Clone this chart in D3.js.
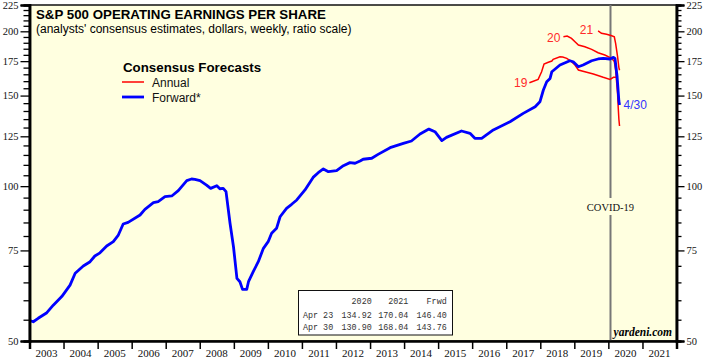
<!DOCTYPE html>
<html><head><meta charset="utf-8">
<script src="https://cdn.jsdelivr.net/npm/d3@7"></script>
<style>body{margin:0;background:#fff}svg{display:block}</style>
</head><body><svg id="c" width="708" height="364"></svg>
<script>
// ---------- DATA ----------
const forwardDates = ["2003-01-04","2003-02-10","2003-04-04","2003-07-06","2003-09-13","2003-12-13","2004-03-11","2004-05-05","2004-07-31","2004-10-12","2004-12-02","2005-01-26","2005-04-08","2005-06-18","2005-08-11","2005-10-02","2005-11-24","2006-04-01","2006-05-23","2006-08-22","2006-10-12","2006-12-24","2007-03-07","2007-05-16","2007-08-15","2007-10-05","2007-11-10","2008-01-04","2008-03-14","2008-04-27","2008-07-02","2008-08-04","2008-09-09","2008-10-09","2008-11-21","2008-12-28","2009-02-03","2009-03-07","2009-04-04","2009-05-19","2009-06-07","2009-07-28","2009-09-20","2009-11-14","2010-01-04","2010-02-10","2010-04-04","2010-05-12","2010-07-20","2010-09-13","2010-11-07","2011-02-03","2011-05-01","2011-06-25","2011-08-19","2011-10-12","2012-01-08","2012-03-21","2012-05-30","2012-07-24","2012-09-16","2012-10-19","2013-01-19","2013-03-28","2013-08-04","2013-12-24","2014-03-21","2014-06-21","2014-09-24","2014-11-28","2015-02-10","2015-04-01","2015-09-09","2015-12-09","2016-01-30","2016-04-12","2016-08-15","2017-02-10","2017-07-02","2017-11-07","2017-12-28","2018-02-03","2018-03-11","2018-04-16","2018-05-05","2018-07-31","2018-11-14","2018-12-20","2019-02-14","2019-04-05","2019-07-06","2019-09-13","2019-11-07","2020-01-19","2020-02-25","2020-03-12","2020-04-04","2020-04-23","2020-04-30"];
const forwardValues = [54.8,54.5,55.35,56.75,58.7,61.0,64.2,67.7,69.95,71.3,73.15,74.2,76.5,78.0,80.35,84.4,85.05,87.9,90.15,92.85,93.3,95.4,95.7,98.0,102.5,103.25,103.1,102.5,100.5,99.0,100.2,98.85,99.0,97.55,84.7,76.25,66.2,65.2,63.0,63.0,65.2,68.2,71.3,75.7,78.0,81.0,82.8,87.2,90.55,92.2,94.0,98.3,104.0,106.2,108.0,106.7,107.2,109.6,111.1,110.8,111.9,112.8,113.3,115.3,118.8,121.1,122.4,126.3,129.1,127.6,122.6,124.4,128.0,126.7,123.9,123.9,128.6,133.4,138.5,142.7,145.9,153.8,159.6,162.0,166.9,172.0,175.3,174.5,170.7,172.0,175.3,176.7,177.2,176.7,178.0,177.2,163.2,146.40,143.76];

const annual19Dates = ["2017-09-06","2017-12-09","2018-01-15","2018-02-10","2018-03-28","2018-05-05","2018-05-19","2018-07-31","2018-08-29","2018-10-12","2018-12-02","2019-01-08","2019-02-14","2019-04-24","2019-07-24","2019-11-07","2020-01-19","2020-02-25","2020-03-26"];
const annual19Values = [158.9,161.3,166.9,172.8,174.1,175.1,176.4,178.5,178.3,177.2,174.6,172.0,168.2,166.9,165.2,162.8,161.3,162.8,162.8];

const annual20Dates = ["2018-09-06","2018-10-16","2018-12-02","2019-01-08","2019-02-14","2019-04-24","2019-07-06","2019-09-13","2019-11-24","2020-02-06","2020-03-05","2020-03-19","2020-04-09","2020-04-16","2020-04-23","2020-04-30"];
const annual20Values = [195.2,195.8,193.8,190.9,188.1,186.7,184.5,181.7,179.9,177.2,174.6,168.2,151.5,142.0,134.92,130.90];

const annual21Dates = ["2019-09-13","2019-10-19","2019-12-13","2020-02-06","2020-03-05","2020-03-19","2020-04-09","2020-04-23","2020-04-30"];
const annual21Values = [200.3,198.2,197.3,196.1,195.2,189.5,178.5,170.04,168.04];

const annualLabels = ["19","20","21"];
const endLabel = "4/30";
const covidDate = "2020-01-24";
const covidLabel = "COVID-19";

const yMajorTicks = [50,75,100,125,150,175,200,225];
const yMinorTicks = d3.range(55,225,5).filter(v => !yMajorTicks.includes(v));
const yearLabels = d3.range(2003,2022);

const tableHeader = ["2020","2021","Frwd"];
const tableDates = ["Apr 23","Apr 30"];
const est2020 = [134.92,130.90];
const est2021 = [170.04,168.04];
const estFwd = [146.40,143.76];

const titleText = "S&P 500 OPERATING EARNINGS PER SHARE";
const subtitleText = "(analysts' consensus estimates, dollars, weekly, ratio scale)";
const legendTitle = "Consensus Forecasts";
const legendItems = ["Annual","Forward*"];
const creditText = "yardeni.com";

// ---------- CHART ----------
const parse = d3.timeParse("%Y-%m-%d");
const svg = d3.select("#c");
const L = 29.5, R = 676.5, T = 5, B = 341;
const x = d3.scaleTime().domain([new Date(2003,0,1), new Date(2022,0,1)]).range([L, R]);
const y = d3.scaleLog().domain([50,225]).range([B, T]);

const RED = "#ff0000", BLUE = "#0000ff";
const bg = "#ffffe0";

svg.append("rect").attr("x",L).attr("y",T).attr("width",R-L).attr("height",B-T)
  .attr("fill",bg).attr("stroke","#111").attr("stroke-width",1.5);

// COVID line
const cx = x(parse(covidDate));
svg.append("line").attr("x1",cx).attr("x2",cx).attr("y1",T).attr("y2",B)
  .attr("stroke","#777").attr("stroke-width",2);
svg.append("rect").attr("x",cx-26).attr("y",198).attr("width",52).attr("height",17).attr("fill",bg);
svg.append("text").attr("x",cx).attr("y",211).attr("text-anchor","middle")
  .attr("font-family","Liberation Serif").attr("font-size",10.5).attr("fill","#111").text(covidLabel);

const line = d3.line().x(d => x(d[0])).y(d => y(d[1]));
function series(dates, vals){ return dates.map((d,i)=>[parse(d), vals[i]]); }

const a19 = series(annual19Dates, annual19Values);
const a20 = series(annual20Dates, annual20Values);
const a21 = series(annual21Dates, annual21Values);
const fwd = series(forwardDates, forwardValues);

[a19,a20,a21].forEach((s,i) => {
  svg.append("path").datum(s).attr("d",line).attr("fill","none").attr("stroke",RED).attr("stroke-width",1.5);
  const offs = [[-2,4.5],[-3,5],[-5,3.5]][i];
  svg.append("text").attr("x",x(s[0][0])+offs[0]).attr("y",y(s[0][1])+offs[1])
    .attr("text-anchor","end").attr("font-family","Liberation Sans").attr("font-size",12)
    .attr("fill","#ff2a2a").text(annualLabels[i]);
});
svg.append("path").datum(fwd).attr("d",line).attr("fill","none").attr("stroke",BLUE)
  .attr("stroke-width",2.8).attr("stroke-linejoin","round");
const lastF = fwd[fwd.length-1];
svg.append("text").attr("x",x(lastF[0])+4).attr("y",y(lastF[1])+3.5)
  .attr("font-family","Liberation Sans").attr("font-size",12).attr("fill","#3333ff").text(endLabel);

// Axes
function yAxis(gen, xpos, major, minor){
  const g1 = svg.append("g").attr("transform",`translate(${xpos},0)`)
    .call(gen(y).tickValues(yMajorTicks).tickFormat(d3.format("d")).tickSize(major).tickPadding(2));
  const g2 = svg.append("g").attr("transform",`translate(${xpos},0)`)
    .call(gen(y).tickValues(yMinorTicks).tickFormat("").tickSize(minor));
  [g1,g2].forEach(g => {
    g.select(".domain").attr("stroke","#000").attr("stroke-width",2.5);
    g.selectAll(".tick line").attr("stroke","#000").attr("stroke-width",1.3);
    g.selectAll("text").attr("font-family","Liberation Serif").attr("font-size",10.5).attr("fill","#111");
  });
}
yAxis(d3.axisLeft, L, 9, 6);
yAxis(d3.axisRight, R, 8, 5);

const xb = svg.append("g").attr("transform",`translate(0,${B})`)
  .call(d3.axisBottom(x).tickValues(d3.range(2003,2023).map(yr=>new Date(yr,0,1))).tickFormat("").tickSize(8));
xb.select(".domain").attr("stroke","#000").attr("stroke-width",2.5);
xb.selectAll(".tick line").attr("stroke","#000").attr("stroke-width",1.5);
svg.append("g").selectAll("text").data(yearLabels).join("text")
  .attr("x", yr => (x(new Date(yr,0,1)) + x(new Date(yr+1,0,1)))/2)
  .attr("y", 357).attr("text-anchor","middle")
  .attr("font-family","Liberation Serif").attr("font-size",11).attr("fill","#111")
  .text(d => d);

// Title
svg.append("text").attr("x",36).attr("y",19).attr("font-family","Liberation Sans")
  .attr("font-weight","bold").attr("font-size",13.3).attr("fill","#000").text(titleText);
svg.append("text").attr("x",36).attr("y",33).attr("font-family","Liberation Sans")
  .attr("font-size",12).attr("fill","#000").text(subtitleText);

// Legend
svg.append("text").attr("x",123).attr("y",72).attr("font-family","Liberation Sans")
  .attr("font-weight","bold").attr("font-size",13.3).attr("fill","#000").text(legendTitle);
[[RED,1.5],[BLUE,2.8]].forEach((c,i) => {
  const ly = 82 + i*15;
  svg.append("line").attr("x1",122).attr("x2",144).attr("y1",ly).attr("y2",ly)
    .attr("stroke",c[0]).attr("stroke-width",c[1]);
  svg.append("text").attr("x",152).attr("y",ly+4.5).attr("font-family","Liberation Sans")
    .attr("font-size",12).attr("fill","#111").text(legendItems[i]);
});

// Table
const tb = svg.append("g");
tb.append("rect").attr("x",298.5).attr("y",290.5).attr("width",154).attr("height",44.5)
  .attr("fill","#fff").attr("stroke","#111").attr("stroke-width",1);
const colX = [371.7,408.3,446.7];
const tf = s => s.attr("font-family","Liberation Mono").attr("font-size",8.4).attr("fill","#333");
tableHeader.forEach((h,i) => tf(tb.append("text").attr("x",colX[i]).attr("y",304).attr("text-anchor","end").text(h)));
tableDates.forEach((d,r) => {
  const by = 318 + r*12;
  tf(tb.append("text").attr("x",303).attr("y",by).text(d));
  [est2020[r], est2021[r], estFwd[r]].forEach((v,i) =>
    tf(tb.append("text").attr("x",colX[i]).attr("y",by).attr("text-anchor","end").text(v.toFixed(2))));
});

// credit
svg.append("text").attr("x",672).attr("y",336).attr("text-anchor","end")
  .attr("font-family","Liberation Serif").attr("font-style","italic").attr("font-weight","bold")
  .attr("font-size",11.5).attr("fill","#000").text(creditText);
</script></body></html>
